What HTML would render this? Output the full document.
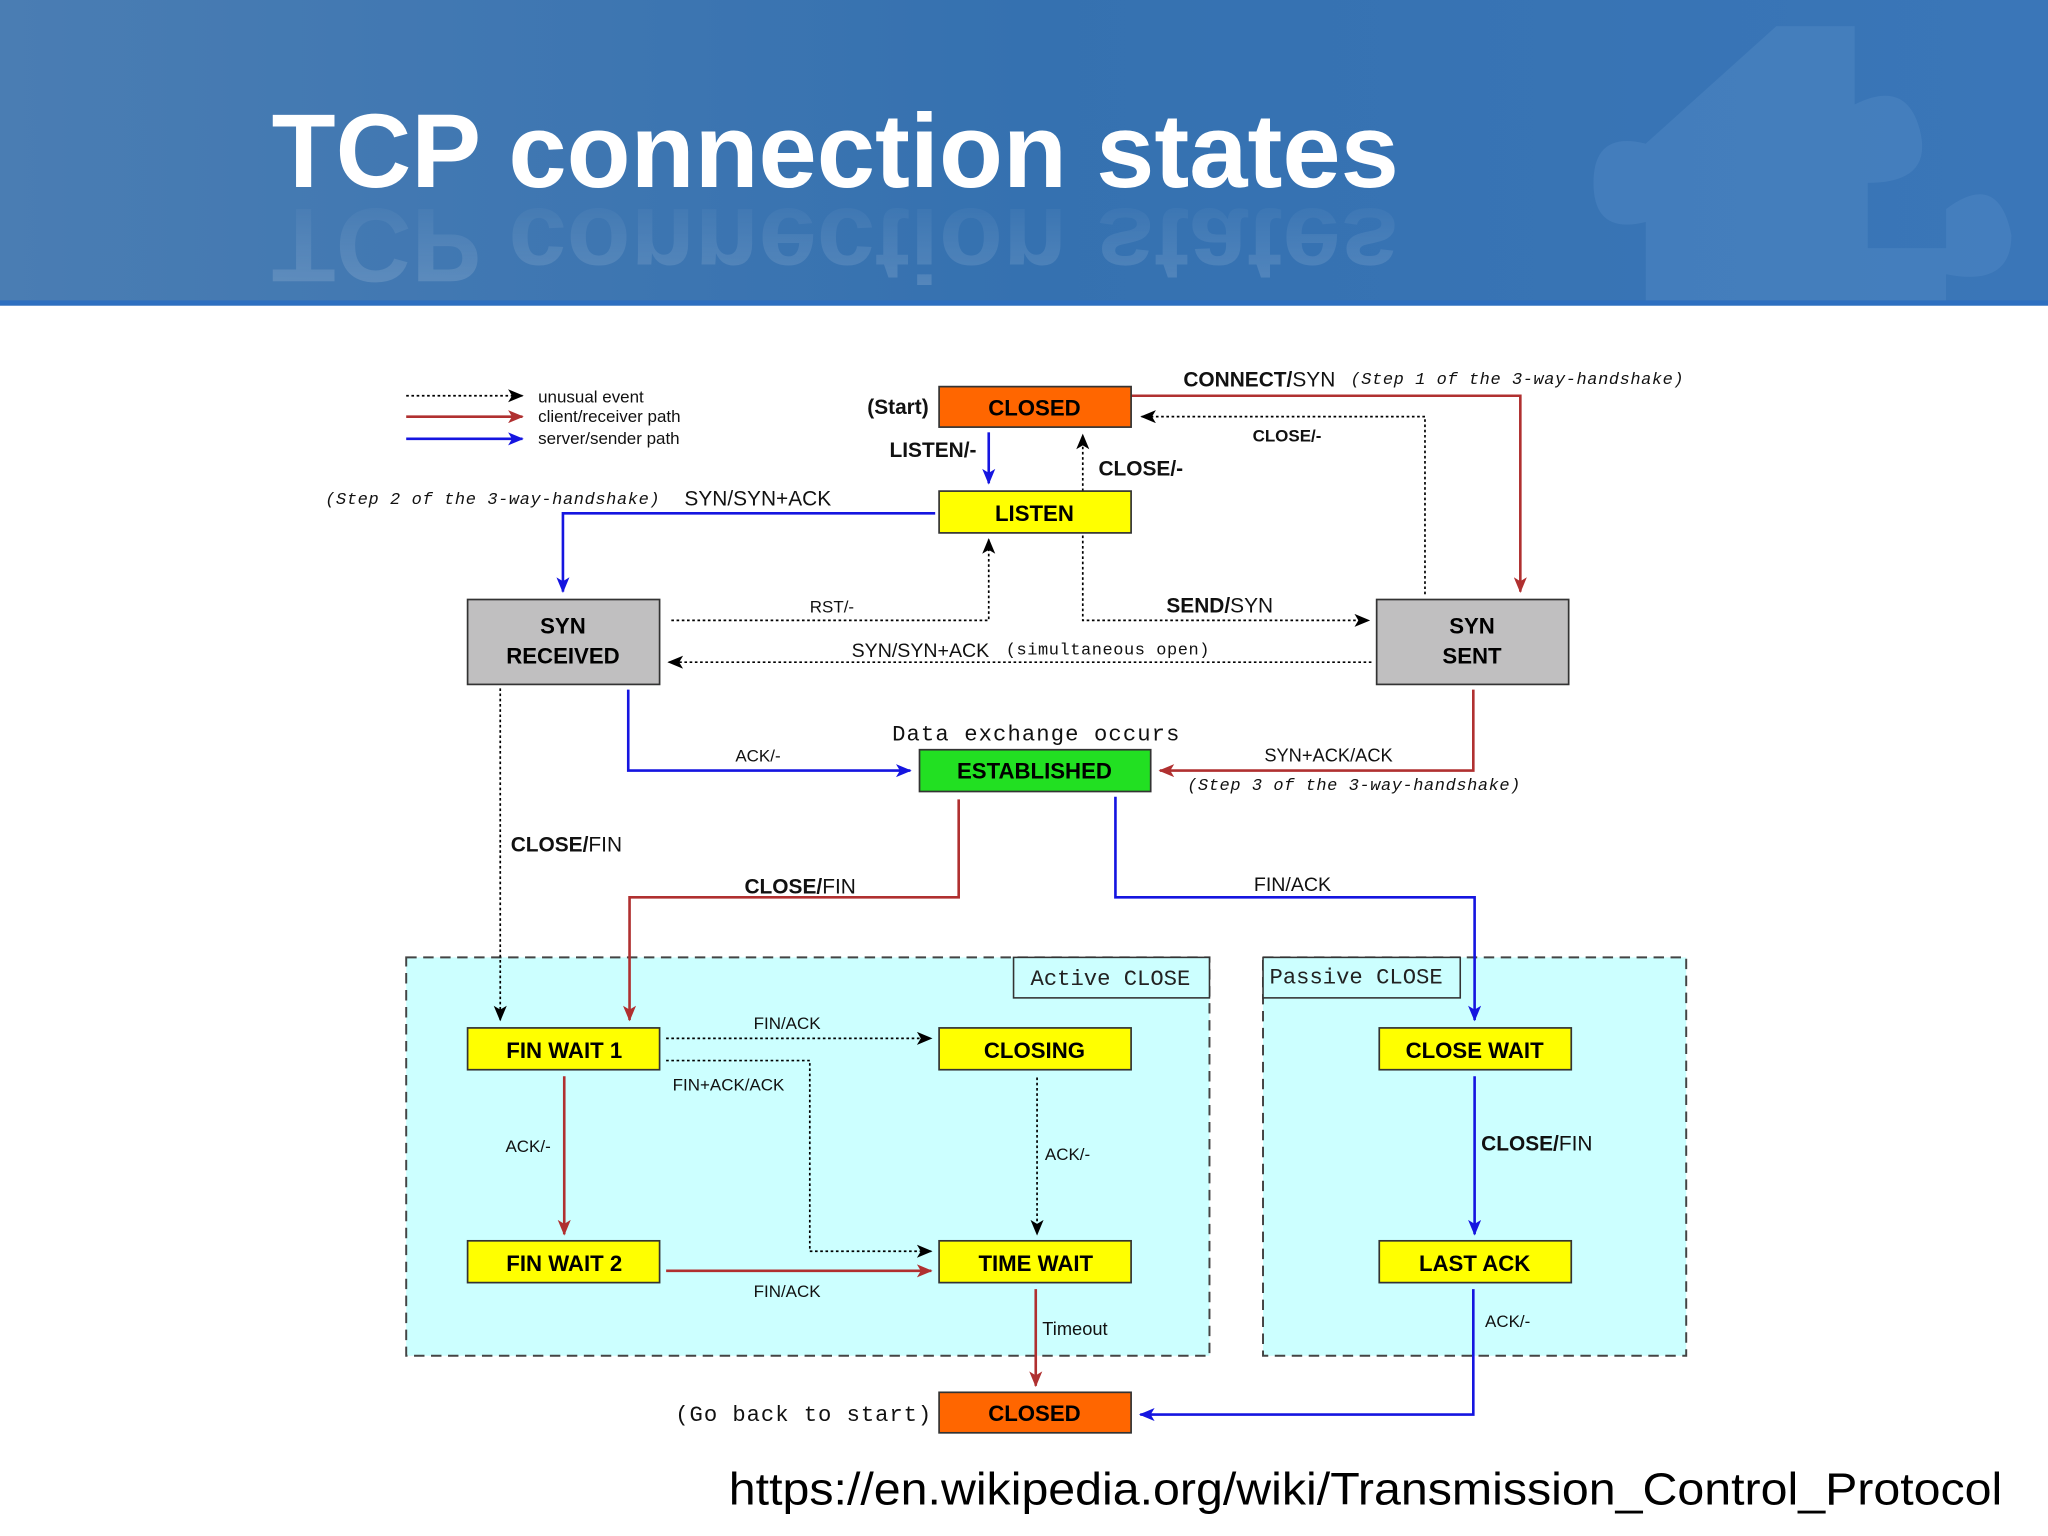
<!DOCTYPE html>
<html><head><meta charset="utf-8"><style>
html,body{margin:0;padding:0;background:#fff}
svg{display:block}
</style></head><body>
<svg width="2048" height="1536" viewBox="0 0 1568 1176" xmlns="http://www.w3.org/2000/svg">
<defs>
<linearGradient id="hg" x1="0" y1="0" x2="1" y2="0">
<stop offset="0" stop-color="#4a7db3"/><stop offset="0.5" stop-color="#3571b0"/><stop offset="1" stop-color="#3a76b8"/>
</linearGradient>
<linearGradient id="rf" x1="0" y1="0" x2="0" y2="1">
<stop offset="0" stop-color="#fff" stop-opacity="0.35"/><stop offset="1" stop-color="#fff" stop-opacity="0"/>
</linearGradient>
<clipPath id="hc"><rect x="0" y="0" width="1568" height="230"/></clipPath>
<marker id="ak" viewBox="0 0 12 10" refX="11" refY="5" markerWidth="12" markerHeight="10" markerUnits="userSpaceOnUse" orient="auto"><path d="M0,0 L12,5 L0,10 L3,5 z" fill="#000"/></marker>
<marker id="ar" viewBox="0 0 12 10" refX="11" refY="5" markerWidth="13" markerHeight="10" markerUnits="userSpaceOnUse" orient="auto"><path d="M0,0 L12,5 L0,10 L3,5 z" fill="#b03030"/></marker>
<marker id="ab" viewBox="0 0 12 10" refX="11" refY="5" markerWidth="13" markerHeight="10" markerUnits="userSpaceOnUse" orient="auto"><path d="M0,0 L12,5 L0,10 L3,5 z" fill="#1515e0"/></marker>
</defs>
<rect x="0" y="0" width="1568" height="234" fill="url(#hg)"/>
<rect x="0" y="230" width="1568" height="4" fill="#2d6fc0"/>
<g fill="#5a8fc8" opacity="0.35" clip-path="url(#hc)">
<path d="M1360 20 h60 v60 q40 -20 50 20 q10 40 -40 40 v50 h60 v-30 q40 -30 50 20 q0 40 -50 30 v60 h-110 q-10 -40 -50 -40 q-40 0 -40 40 h-30 v-100 q-40 10 -40 -30 q0 -40 40 -30 z"/>
</g>
<g clip-path="url(#hc)">
<text x="208" y="-160" font-family="'Liberation Sans',sans-serif" font-weight="bold" font-size="80" fill="url(#rf)" opacity="0.5" transform="scale(1,-1)" textLength="863" lengthAdjust="spacingAndGlyphs">TCP connection states</text>
</g>
<text x="208" y="143" font-family="'Liberation Sans',sans-serif" font-weight="bold" font-size="80" fill="#fff" textLength="863" lengthAdjust="spacingAndGlyphs">TCP connection states</text>

<!-- regions -->
<rect x="311" y="733" width="615" height="305" fill="#ccffff" stroke="#444" stroke-width="1.5" stroke-dasharray="8,5"/>
<rect x="776" y="733" width="150" height="31" fill="#ccffff" stroke="#333" stroke-width="1.2"/>
<text x="789" y="754" font-family="'Liberation Mono',monospace" font-size="17" fill="#222">Active CLOSE</text>
<rect x="967" y="733" width="324" height="305" fill="#ccffff" stroke="#444" stroke-width="1.5" stroke-dasharray="8,5"/>
<rect x="967" y="733" width="151" height="31" fill="#ccffff" stroke="#333" stroke-width="1.2"/>
<text x="972" y="753" font-family="'Liberation Mono',monospace" font-size="17" fill="#222">Passive CLOSE</text>

<g font-family="'Liberation Sans',sans-serif" font-size="14" fill="#111">
<line x1="311" y1="303" x2="400" y2="303" stroke="#000" stroke-width="1.3" stroke-dasharray="2,2" marker-end="url(#ak)"/>
<line x1="311" y1="319" x2="400" y2="319" stroke="#b03030" stroke-width="2" marker-end="url(#ar)"/>
<line x1="311" y1="336" x2="400" y2="336" stroke="#1515e0" stroke-width="2" marker-end="url(#ab)"/>
<text x="412" y="308" font-size="13">unusual event</text>
<text x="412" y="323" font-size="13">client/receiver path</text>
<text x="412" y="340" font-size="13">server/sender path</text>

<g fill="none" stroke-width="2">
<path d="M866 303 H1164 V453" stroke="#b03030" marker-end="url(#ar)"/>
<path d="M1091 455 V319 H874" stroke="#000" stroke-width="1.3" stroke-dasharray="2,2" marker-end="url(#ak)"/>
<path d="M757 331 V370" stroke="#1515e0" marker-end="url(#ab)"/>
<path d="M829 376 V333" stroke="#000" stroke-width="1.3" stroke-dasharray="2,2" marker-end="url(#ak)"/>
<path d="M716 393 H431 V453" stroke="#1515e0" marker-end="url(#ab)"/>
<path d="M514 475 H757 V413" stroke="#000" stroke-width="1.3" stroke-dasharray="2,2" marker-end="url(#ak)"/>
<path d="M829 410 V475 H1048" stroke="#000" stroke-width="1.3" stroke-dasharray="2,2" marker-end="url(#ak)"/>
<path d="M1050 507 H512" stroke="#000" stroke-width="1.3" stroke-dasharray="2,2" marker-end="url(#ak)"/>
<path d="M481 528 V590 H697" stroke="#1515e0" marker-end="url(#ab)"/>
<path d="M1128 528 V590 H888" stroke="#b03030" marker-end="url(#ar)"/>
<path d="M383 527 V781" stroke="#000" stroke-width="1.3" stroke-dasharray="2,2" marker-end="url(#ak)"/>
<path d="M734 612 V687 H482 V781" stroke="#b03030" marker-end="url(#ar)"/>
<path d="M854 610 V687 H1129 V781" stroke="#1515e0" marker-end="url(#ab)"/>
<path d="M510 795 H713" stroke="#000" stroke-width="1.3" stroke-dasharray="2,2" marker-end="url(#ak)"/>
<path d="M510 812 H620 V958 H713" stroke="#000" stroke-width="1.3" stroke-dasharray="2,2" marker-end="url(#ak)"/>
<path d="M432 824 V945" stroke="#b03030" marker-end="url(#ar)"/>
<path d="M794 825 V945" stroke="#000" stroke-width="1.3" stroke-dasharray="2,2" marker-end="url(#ak)"/>
<path d="M510 973 H713" stroke="#b03030" marker-end="url(#ar)"/>
<path d="M1129 824 V945" stroke="#1515e0" marker-end="url(#ab)"/>
<path d="M793 987 V1061" stroke="#b03030" marker-end="url(#ar)"/>
<path d="M1128 987 V1083 H873" stroke="#1515e0" marker-end="url(#ab)"/>
</g>

<g stroke="#333" stroke-width="1.3">
<rect x="719" y="296" width="147" height="31" fill="#ff6600"/>
<rect x="719" y="376" width="147" height="32" fill="#ffff00"/>
<rect x="358" y="459" width="147" height="65" fill="#c0bfc0"/>
<rect x="1054" y="459" width="147" height="65" fill="#c0bfc0"/>
<rect x="704" y="574" width="177" height="32" fill="#22e022"/>
<rect x="358" y="787" width="147" height="32" fill="#ffff00"/>
<rect x="719" y="787" width="147" height="32" fill="#ffff00"/>
<rect x="1056" y="787" width="147" height="32" fill="#ffff00"/>
<rect x="358" y="950" width="147" height="32" fill="#ffff00"/>
<rect x="719" y="950" width="147" height="32" fill="#ffff00"/>
<rect x="1056" y="950" width="147" height="32" fill="#ffff00"/>
<rect x="719" y="1066" width="147" height="31" fill="#ff6600"/>
</g>
<g font-weight="bold" font-size="17" text-anchor="middle" fill="#000">
<text x="792" y="318">CLOSED</text>
<text x="792" y="399">LISTEN</text>
<text x="431" y="485">SYN</text>
<text x="431" y="508">RECEIVED</text>
<text x="1127" y="485">SYN</text>
<text x="1127" y="508">SENT</text>
<text x="792" y="596">ESTABLISHED</text>
<text x="432" y="810">FIN WAIT 1</text>
<text x="792" y="810">CLOSING</text>
<text x="1129" y="810">CLOSE WAIT</text>
<text x="432" y="973">FIN WAIT 2</text>
<text x="793" y="973">TIME WAIT</text>
<text x="1129" y="973">LAST ACK</text>
<text x="792" y="1088">CLOSED</text>
</g>

<text x="664" y="317" font-weight="bold" font-size="16">(Start)</text>
<text x="906" y="296" font-size="16"><tspan font-weight="bold">CONNECT/</tspan>SYN</text>
<text x="1034" y="294" font-family="'Liberation Mono',monospace" font-style="italic" font-size="13" textLength="255">(Step 1 of the 3-way-handshake)</text>
<text x="959" y="338" font-weight="bold" font-size="13">CLOSE/-</text>
<text x="681" y="350" font-weight="bold" font-size="16">LISTEN/-</text>
<text x="841" y="364" font-weight="bold" font-size="16">CLOSE/-</text>
<text x="249" y="386" font-family="'Liberation Mono',monospace" font-style="italic" font-size="13" textLength="256">(Step 2 of the 3-way-handshake)</text>
<text x="524" y="387" font-size="16">SYN/SYN+ACK</text>
<text x="620" y="469" font-size="13">RST/-</text>
<text x="893" y="469" font-size="16"><tspan font-weight="bold">SEND/</tspan>SYN</text>
<text x="652" y="503" font-size="15">SYN/SYN+ACK</text>
<text x="770" y="501" font-family="'Liberation Mono',monospace" font-size="13" textLength="156">(simultaneous open)</text>
<text x="683" y="567" font-family="'Liberation Mono',monospace" font-size="17" textLength="220">Data exchange occurs</text>
<text x="563" y="583" font-size="13">ACK/-</text>
<text x="968" y="583" font-size="14">SYN+ACK/ACK</text>
<text x="909" y="605" font-family="'Liberation Mono',monospace" font-style="italic" font-size="13" textLength="255">(Step 3 of the 3-way-handshake)</text>
<text x="391" y="652" font-size="16"><tspan font-weight="bold">CLOSE/</tspan>FIN</text>
<text x="570" y="684" font-size="16"><tspan font-weight="bold">CLOSE/</tspan>FIN</text>
<text x="960" y="682" font-size="15">FIN/ACK</text>
<text x="577" y="788" font-size="13">FIN/ACK</text>
<text x="515" y="835" font-size="13">FIN+ACK/ACK</text>
<text x="387" y="882" font-size="13">ACK/-</text>
<text x="800" y="888" font-size="13">ACK/-</text>
<text x="1134" y="881" font-size="16"><tspan font-weight="bold">CLOSE/</tspan>FIN</text>
<text x="577" y="993" font-size="13">FIN/ACK</text>
<text x="798" y="1022" font-size="14">Timeout</text>
<text x="1137" y="1016" font-size="13">ACK/-</text>
<text x="517" y="1088" font-family="'Liberation Mono',monospace" font-size="17" textLength="196">(Go back to start)</text>
</g>
<text x="558" y="1152" font-family="'Liberation Sans',sans-serif" font-size="35" fill="#000" textLength="975" lengthAdjust="spacingAndGlyphs">https://en.wikipedia.org/wiki/Transmission_Control_Protocol</text>
</svg>
</body></html>
